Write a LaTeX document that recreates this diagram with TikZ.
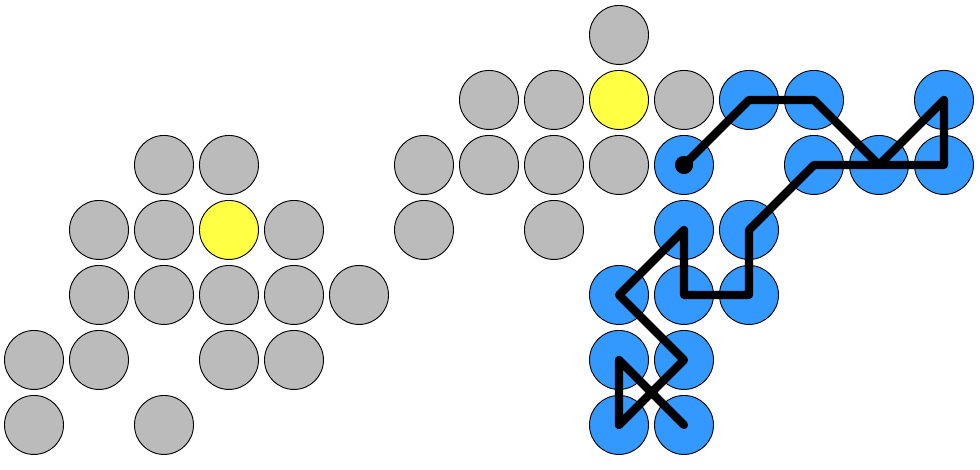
\documentclass[tikz,border=0pt]{standalone}
\definecolor{pegGray}{RGB}{187,187,187}
\definecolor{pegYellow}{RGB}{255,255,68}
\definecolor{pegBlue}{RGB}{51,153,255}
\begin{document}
\begin{tikzpicture}[x=1cm,y=-1cm,
    peg/.style={circle,draw,thin,minimum size=0.908cm,inner sep=0pt},
    walk/.style={line width=3.6pt,line cap=round,line join=round}]
  % keep the margins of the board
  \useasboundingbox (-0.523,-0.538) rectangle (14.554,6.692);

  % gray pegs
  \foreach \x/\y in {2/2,3/2,1/3,2/3,4/3,1/4,2/4,3/4,4/4,5/4,0/5,1/5,3/5,4/5,0/6,2/6,
                     9/0,7/1,8/1,10/1,6/2,7/2,8/2,9/2,6/3,8/3} {
    \node[peg,fill=pegGray] (c-\x-\y) at (\x,\y) {};
  }
  % yellow pegs
  \foreach \x/\y in {3/3,9/1} {
    \node[peg,fill=pegYellow] (c-\x-\y) at (\x,\y) {};
  }
  % blue pegs
  \foreach \x/\y in {11/1,12/1,14/1,10/2,12/2,13/2,14/2,10/3,11/3,9/4,10/4,11/4,9/5,10/5,9/6,10/6} {
    \node[peg,fill=pegBlue] (c-\x-\y) at (\x,\y) {};
  }

  % the walk over the blue pegs
  \fill (c-10-2.center) circle (0.14);
  \draw[walk] (c-10-2.center) -- (c-11-1.center) -- (c-12-1.center) -- (c-13-2.center)
    -- (c-14-1.center) -- (c-14-2.center) -- (c-12-2.center) -- (c-11-3.center)
    -- (c-11-4.center) -- (c-10-4.center) -- (c-10-3.center) -- (c-9-4.center)
    -- (c-10-5.center) -- (c-9-6.center) -- (c-9-5.center) -- (c-10-6.center);
\end{tikzpicture}
\end{document}
